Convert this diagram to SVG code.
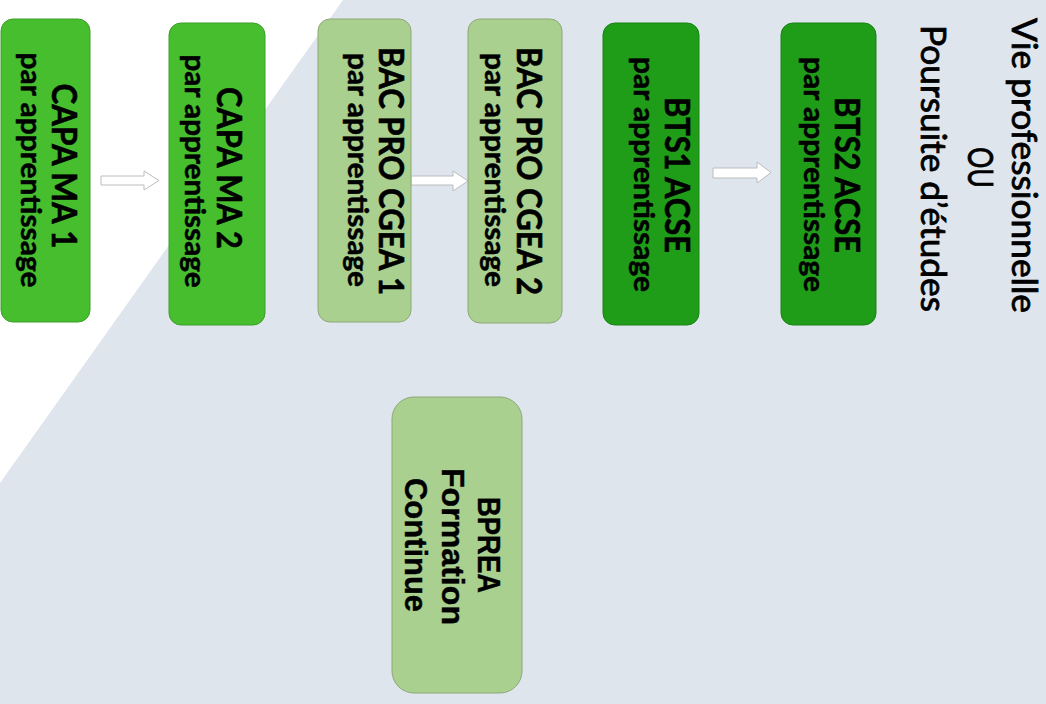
<svg xmlns="http://www.w3.org/2000/svg" width="1046" height="704" viewBox="0 0 1046 704">
  <style>
    .bg { fill: #dee5ed; }
    .capa { fill: #47be2e; stroke: #3c9e2a; stroke-width: 1; }
    .bac { fill: #a9d08e; stroke: #8ca878; stroke-width: 1; }
    .bts { fill: #1f9c18; stroke: #1a8215; stroke-width: 1; }
    .t1 { font-family: Lato, "Liberation Sans", sans-serif; font-weight: bold; font-size: 34px; fill: #000; stroke: #000; stroke-width: 0.6; text-anchor: middle; }
    .t2 { font-family: Lato, "Liberation Sans", sans-serif; font-weight: bold; font-size: 29px; fill: #000; stroke: #000; stroke-width: 0.5; text-anchor: middle; }
    .tt { font-family: Lato, "Liberation Sans", sans-serif; font-weight: normal; font-size: 35px; fill: #000; stroke: #000; stroke-width: 0.8; text-anchor: middle; }
    .tb { font-family: "Liberation Sans", Arial, sans-serif; font-weight: bold; font-size: 32px; fill: #000; stroke: #000; stroke-width: 0.4; text-anchor: middle; }
    .arrow { fill: #ffffff; stroke: #b9bcc0; stroke-width: 1; }
  </style>
  <rect class="bg" x="0" y="0" width="1046" height="704"/>
  <polygon points="0,0 343,0 0,483" fill="#ffffff"/>

  <g id="connectors">
    <polygon class="arrow" points="101,176 144,176 144,171 159,180.5 144,190 144,185 101,185"/>
    <polygon class="arrow" points="411,176 453,176 453,171 468,181 453,191 453,185 411,185"/>
    <polygon class="arrow" points="713,168 757,168 757,162 771,172.5 757,183 757,178 713,178"/>
  </g>

  <g id="capa1">
    <rect class="capa" x="1" y="19" width="89" height="303" rx="12"/>
    <text class="t1" transform="translate(52,166) rotate(90)" textLength="165" lengthAdjust="spacingAndGlyphs">CAPA MA 1</text>
    <text class="t2" transform="translate(21,170) rotate(90)" textLength="235" lengthAdjust="spacingAndGlyphs">par apprentissage</text>
  </g>

  <g id="capa2">
    <rect class="capa" x="169" y="23" width="96" height="302" rx="12"/>
    <text class="t1" transform="translate(217,168) rotate(90)" textLength="162" lengthAdjust="spacingAndGlyphs">CAPA MA 2</text>
    <text class="t2" transform="translate(185,171) rotate(90)" textLength="233" lengthAdjust="spacingAndGlyphs">par apprentissage</text>
  </g>

  <g id="bac1">
    <rect class="bac" x="318" y="19" width="93" height="303" rx="12"/>
    <text class="t1" transform="translate(379,171) rotate(90)" textLength="248" lengthAdjust="spacingAndGlyphs">BAC PRO CGEA 1</text>
    <text class="t2" transform="translate(348,170) rotate(90)" textLength="234" lengthAdjust="spacingAndGlyphs">par apprentissage</text>
  </g>

  <g id="bac2">
    <rect class="bac" x="468" y="19" width="94" height="304" rx="12"/>
    <text class="t1" transform="translate(517,171) rotate(90)" textLength="248" lengthAdjust="spacingAndGlyphs">BAC PRO CGEA 2</text>
    <text class="t2" transform="translate(485,170) rotate(90)" textLength="234" lengthAdjust="spacingAndGlyphs">par apprentissage</text>
  </g>

  <g id="bts1">
    <rect class="bts" x="603" y="23" width="96" height="302" rx="12"/>
    <text class="t1" transform="translate(665,175) rotate(90)" textLength="156" lengthAdjust="spacingAndGlyphs">BTS1 ACSE</text>
    <text class="t2" transform="translate(634,174.5) rotate(90)" textLength="235" lengthAdjust="spacingAndGlyphs">par apprentissage</text>
  </g>

  <g id="bts2">
    <rect class="bts" x="781" y="23" width="95" height="302" rx="12"/>
    <text class="t1" transform="translate(835,175) rotate(90)" textLength="156" lengthAdjust="spacingAndGlyphs">BTS2 ACSE</text>
    <text class="t2" transform="translate(804,174.5) rotate(90)" textLength="235" lengthAdjust="spacingAndGlyphs">par apprentissage</text>
  </g>

  <g id="outcome">
    <text class="tt" transform="translate(1012,165.5) rotate(90)" textLength="295" lengthAdjust="spacingAndGlyphs">Vie professionnelle</text>
    <text class="tt" transform="translate(968,167.5) rotate(90)" textLength="41" lengthAdjust="spacingAndGlyphs">OU</text>
    <text class="tt" transform="translate(921,168.5) rotate(90)" textLength="287" lengthAdjust="spacingAndGlyphs">Poursuite d’études</text>
  </g>

  <g id="bprea">
    <rect class="bac" x="392" y="397" width="130" height="296" rx="22"/>
    <text class="tb" transform="translate(478,545) rotate(90)" textLength="96" lengthAdjust="spacingAndGlyphs">BPREA</text>
    <text class="tb" transform="translate(442,546.5) rotate(90)" textLength="157" lengthAdjust="spacingAndGlyphs">Formation</text>
    <text class="tb" transform="translate(405,545) rotate(90)" textLength="134" lengthAdjust="spacingAndGlyphs">Continue</text>
  </g>
</svg>
